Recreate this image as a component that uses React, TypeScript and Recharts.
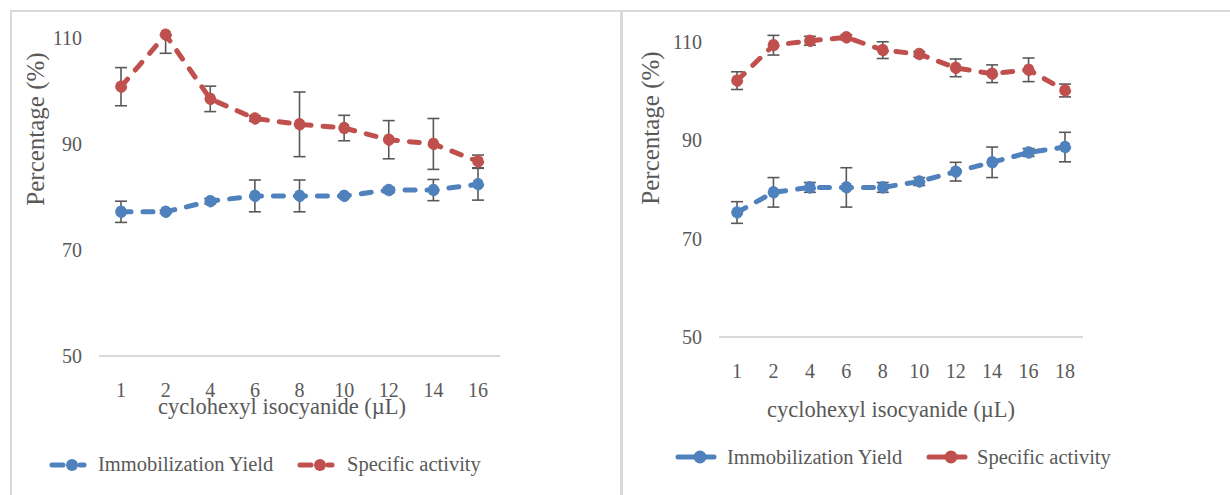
import React from 'react'
import { LineChart, Line, XAxis, YAxis, ErrorBar } from 'recharts'

// ── Values ───────────────────────────────────────────────────────────────────

const LEFT_DOSES = ['1', '2', '4', '6', '8', '10', '12', '14', '16']
const LEFT_YIELD = [77.2, 77.2, 79.2, 80.2, 80.2, 80.2, 81.3, 81.3, 82.4]
const LEFT_YIELD_ERR = [2, 0.3, 0.5, 3, 3, 0.3, 0.5, 2, 3]
const LEFT_ACTIVITY = [100.8, 110.6, 98.5, 94.8, 93.7, 93.0, 90.8, 90.0, 86.7]
// [below, above]
const LEFT_ACTIVITY_ERR: [number, number][] = [
  [3.6, 3.6], [3.5, 0], [2.4, 2.4], [0.5, 0.5], [6.1, 6.1],
  [2.4, 2.4], [3.6, 3.6], [4.8, 4.8], [1.2, 1.2],
]

const RIGHT_DOSES = ['1', '2', '4', '6', '8', '10', '12', '14', '16', '18']
const RIGHT_YIELD = [75.3, 79.4, 80.4, 80.4, 80.4, 81.6, 83.6, 85.5, 87.5, 88.6]
const RIGHT_YIELD_ERR = [2.2, 3, 1, 4, 1, 0.8, 1.9, 3.1, 0.8, 3]
const RIGHT_ACTIVITY = [102.1, 109.3, 110.2, 110.9, 108.3, 107.5, 104.7, 103.5, 104.3, 100.1]
const RIGHT_ACTIVITY_ERR = [1.8, 2, 0.9, 0.5, 1.7, 0.5, 1.8, 1.8, 2.4, 1.3]

const Y_TICKS = [50, 70, 90, 110]

const BLUE = '#4f81bd'
const RED = '#c0504d'
const TEXT = '#595959'
const RULE = '#d9d9d9'
const FONT = '"Liberation Serif", "Times New Roman", serif'

// ── Shared panel ─────────────────────────────────────────────────────────────

interface PanelProps {
  doses: string[]
  yieldVals: number[]
  yieldErr: (number | [number, number])[]
  activity: number[]
  activityErr: (number | [number, number])[]
  width: number
  margin: { top: number; right: number; bottom: number; left: number }
  pad: number
}

function Panel({ doses, yieldVals, yieldErr, activity, activityErr, width, margin, pad }: PanelProps) {
  const rows = doses.map((d, i) => ({
    dose: d,
    yield: yieldVals[i],
    yieldErr: yieldErr[i],
    activity: activity[i],
    activityErr: activityErr[i],
  }))

  const tick = { fontSize: 20, fill: TEXT, fontFamily: FONT }

  return (
    <LineChart width={width} height={495} data={rows} margin={margin}>
      <XAxis
        dataKey="dose"
        tick={tick}
        tickLine={false}
        axisLine={{ stroke: RULE, strokeWidth: 2 }}
        tickMargin={21}
        height={30}
        interval={0}
        padding={{ left: pad, right: pad }}
      />
      <YAxis
        domain={[50, 113]}
        ticks={Y_TICKS}
        tick={tick}
        tickLine={false}
        axisLine={false}
        tickMargin={11}
        width={60}
      />
      <Line
        dataKey="yield"
        stroke={BLUE}
        strokeWidth={5}
        strokeDasharray="10 12"
        strokeLinecap="round"
        dot={{ r: 5.8, fill: BLUE, stroke: BLUE, strokeWidth: 1 }}
        isAnimationActive={false}
      >
        <ErrorBar dataKey="yieldErr" width={6} stroke={TEXT} strokeWidth={1.6} direction="y" isAnimationActive={false} />
      </Line>
      <Line
        dataKey="activity"
        stroke={RED}
        strokeWidth={5}
        strokeDasharray="10 12"
        strokeLinecap="round"
        dot={{ r: 5.8, fill: RED, stroke: RED, strokeWidth: 1 }}
        isAnimationActive={false}
      >
        <ErrorBar dataKey="activityErr" width={6} stroke={TEXT} strokeWidth={1.6} direction="y" isAnimationActive={false} />
      </Line>
    </LineChart>
  )
}

// legend swatch: short line with a dot in the middle
function Swatch({ x, y, color, dashed }: { x: number; y: number; color: string; dashed: boolean }) {
  return (
    <g>
      {dashed ? (
        <>
          <line x1={x + 2} y1={y} x2={x + 13} y2={y} stroke={color} strokeWidth={5} strokeLinecap="round" />
          <line x1={x + 30} y1={y} x2={x + 34} y2={y} stroke={color} strokeWidth={5} strokeLinecap="round" />
        </>
      ) : (
        <line x1={x} y1={y} x2={x + 36} y2={y} stroke={color} strokeWidth={5} strokeLinecap="round" />
      )}
      <circle cx={x + 22} cy={y} r={dashed ? 6 : 6.5} fill={color} />
    </g>
  )
}

export default function App() {
  const label = { fontFamily: FONT, fill: TEXT }
  return (
    <div style={{ position: 'fixed', left: 0, top: 0, width: 1230, height: 495, background: '#fff', overflow: 'hidden' }}>
      <div style={{ position: 'absolute', left: 0, top: 0 }}>
        <Panel
          doses={LEFT_DOSES}
          yieldVals={LEFT_YIELD}
          yieldErr={LEFT_YIELD_ERR}
          activity={LEFT_ACTIVITY}
          activityErr={LEFT_ACTIVITY_ERR}
          width={620}
          margin={{ top: 22, right: 120, bottom: 109, left: 39 }}
          pad={22}
        />
      </div>
      <div style={{ position: 'absolute', left: 620, top: 0 }}>
        <Panel
          doses={RIGHT_DOSES}
          yieldVals={RIGHT_YIELD}
          yieldErr={RIGHT_YIELD_ERR}
          activity={RIGHT_ACTIVITY}
          activityErr={RIGHT_ACTIVITY_ERR}
          width={610}
          margin={{ top: 27, right: 147, bottom: 128, left: 39 }}
          pad={18}
        />
      </div>

      {/* frame, titles and legends */}
      <svg width={1230} height={495} style={{ position: 'absolute', left: 0, top: 0, pointerEvents: 'none' }}>
        <line x1={10} y1={11} x2={1230} y2={11} stroke={RULE} strokeWidth={2} />
        <line x1={11} y1={10} x2={11} y2={495} stroke={RULE} strokeWidth={2} />
        <line x1={621.5} y1={10} x2={621.5} y2={495} stroke={RULE} strokeWidth={3} />

        <text {...label} fontSize={25} textAnchor="middle" dominantBaseline="central" transform="translate(35,129) rotate(-90)">
          Percentage (%)
        </text>
        <text {...label} fontSize={25} textAnchor="middle" dominantBaseline="central" transform="translate(650,128) rotate(-90)">
          Percentage (%)
        </text>

        <text {...label} fontSize={22.5} textAnchor="middle" x={282} y={414}>cyclohexyl isocyanide (µL)</text>
        <text {...label} fontSize={22.5} textAnchor="middle" x={891} y={417}>cyclohexyl isocyanide (µL)</text>

        <Swatch x={50} y={465} color={BLUE} dashed />
        <text {...label} fontSize={20.5} x={98} y={471}>Immobilization Yield</text>
        <Swatch x={298} y={465} color={RED} dashed />
        <text {...label} fontSize={20.5} x={347} y={471}>Specific activity</text>

        <Swatch x={678} y={457} color={BLUE} dashed={false} />
        <text {...label} fontSize={20.5} x={727} y={464}>Immobilization Yield</text>
        <Swatch x={929} y={457} color={RED} dashed={false} />
        <text {...label} fontSize={20.5} x={977} y={464}>Specific activity</text>
      </svg>
    </div>
  )
}
